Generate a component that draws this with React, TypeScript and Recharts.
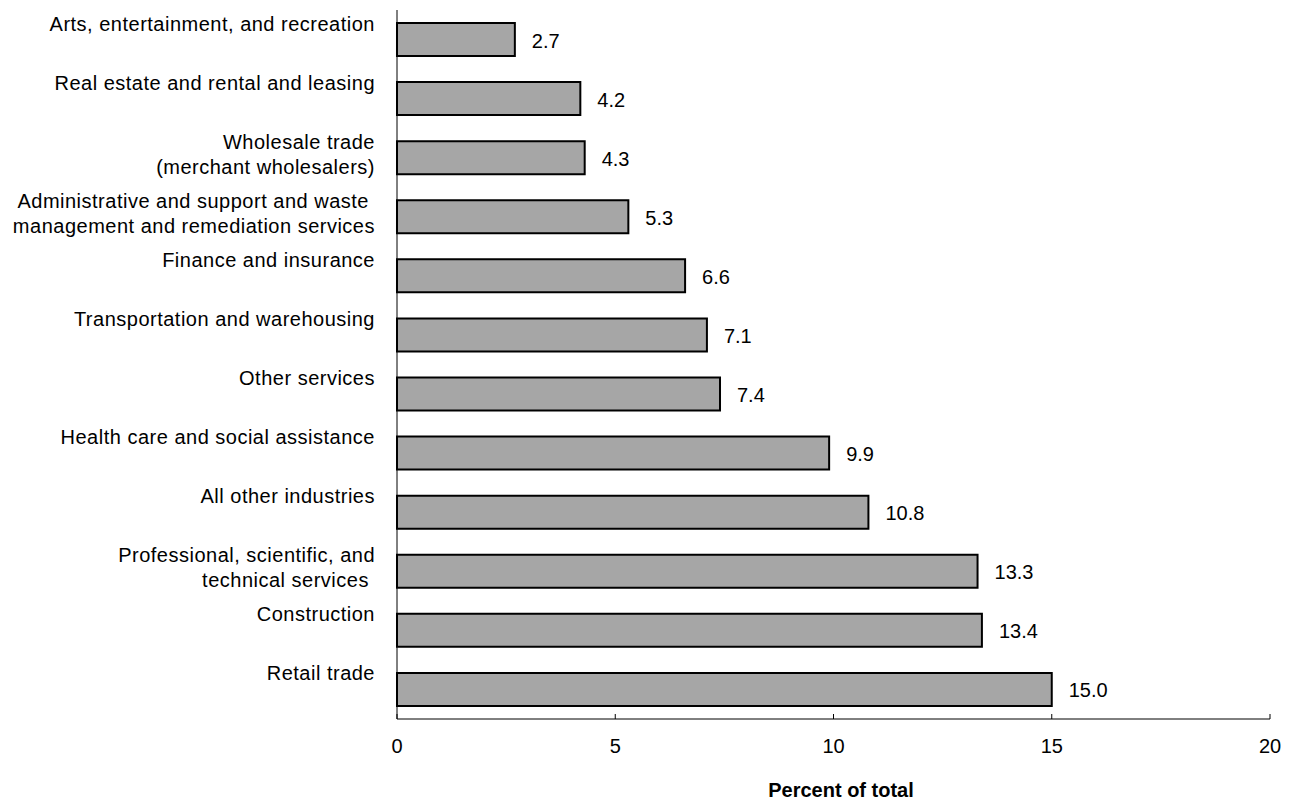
import { BarChart, Bar, XAxis, YAxis, LabelList } from "recharts";

// Industries listed top to bottom; "\n" marks a line break in the axis label.
const industries = [
  "Arts, entertainment, and recreation",
  "Real estate and rental and leasing",
  "Wholesale trade\n(merchant wholesalers)",
  "Administrative and support and waste \nmanagement and remediation services",
  "Finance and insurance",
  "Transportation and warehousing",
  "Other services",
  "Health care and social assistance",
  "All other industries",
  "Professional, scientific, and\ntechnical services ",
  "Construction",
  "Retail trade",
];

const percentOfTotal = [2.7, 4.2, 4.3, 5.3, 6.6, 7.1, 7.4, 9.9, 10.8, 13.3, 13.4, 15.0];

const xTicks = [0, 5, 10, 15, 20];

const data = industries.map((name, i) => ({ name, value: percentOfTotal[i] }));

const FONT = "Arial, 'Liberation Sans', sans-serif";

function IndustryTick({ x, y, payload }: any) {
  const lines = String(payload.value).split("\n");
  return (
    <g>
      {lines.map((line, i) => (
        <text
          key={i}
          x={x - 22}
          y={y - 9 + i * 25}
          textAnchor="end"
          fontSize={20}
          fontFamily={FONT}
          letterSpacing={0.5}
          fill="#000"
          style={{ whiteSpace: "pre" }}
        >
          {line}
        </text>
      ))}
    </g>
  );
}

function PercentTick({ x, y, payload }: any) {
  return (
    <g>
      <line x1={x} x2={x} y1={y - 5} y2={y} stroke="#000" strokeWidth={1} />
      <text x={x} y={y + 34} textAnchor="middle" fontSize={20} fontFamily={FONT} fill="#000">
        {payload.value}
      </text>
    </g>
  );
}

function ValueLabel({ x, y, width, height, value }: any) {
  return (
    <text
      x={x + width + 17}
      y={y + height / 2 + 8}
      fontSize={20}
      fontFamily={FONT}
      fill="#000"
    >
      {Number(value).toFixed(1)}
    </text>
  );
}

export default function App() {
  return (
    <div style={{ position: "absolute", left: 0, top: 0, width: 1291, height: 802, background: "#fff" }}>
      <BarChart
        width={1291}
        height={802}
        data={data}
        layout="vertical"
        margin={{ top: 10, right: 21, bottom: 0, left: 0 }}
      >
        <XAxis
          type="number"
          domain={[0, 20]}
          ticks={xTicks}
          height={83}
          tickSize={0}
          tickMargin={0}
          tickLine={false}
          axisLine={{ stroke: "#000", strokeWidth: 1 }}
          tick={<PercentTick />}
          interval={0}
        />
        <YAxis
          type="category"
          dataKey="name"
          width={397}
          tickSize={0}
          tickMargin={0}
          tickLine={false}
          axisLine={{ stroke: "#000", strokeWidth: 1 }}
          tick={<IndustryTick />}
          interval={0}
        />
        <Bar
          dataKey="value"
          fill="#A6A6A6"
          stroke="#000"
          strokeWidth={2}
          barSize={33}
          isAnimationActive={false}
        >
          <LabelList dataKey="value" content={<ValueLabel />} />
        </Bar>
        <text x={841} y={797} textAnchor="middle" fontSize={20} fontWeight="bold" fontFamily={FONT} fill="#000">
          Percent of total
        </text>
      </BarChart>
    </div>
  );
}
